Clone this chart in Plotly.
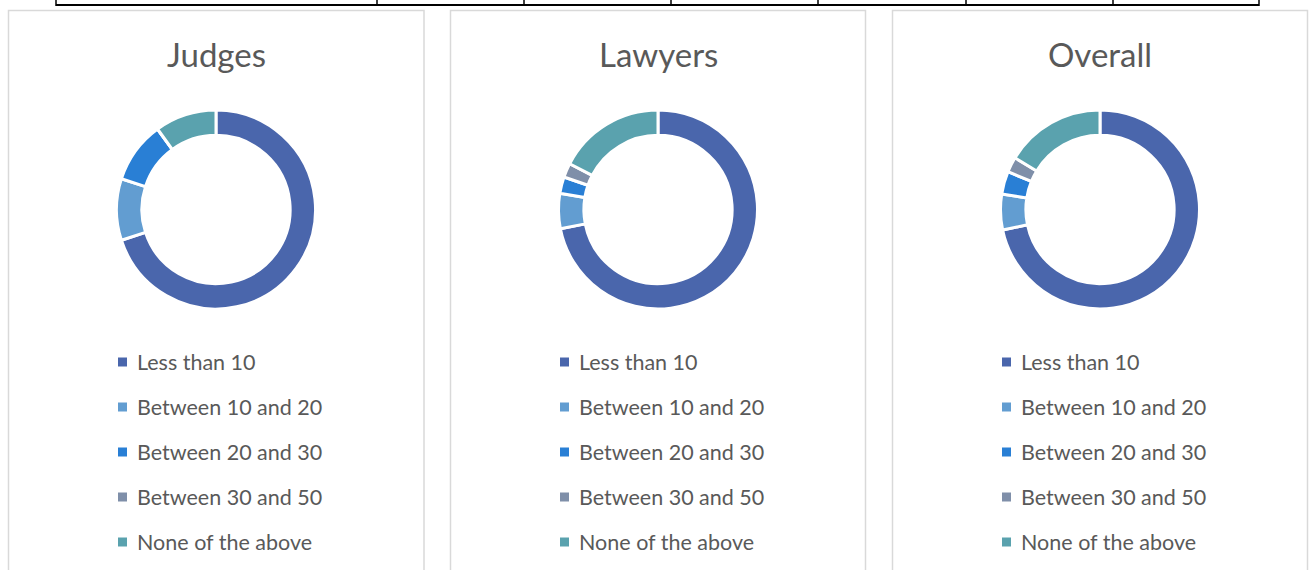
import plotly.graph_objects as go

W, H = 1309, 570

categories = ["Less than 10", "Between 10 and 20", "Between 20 and 30",
              "Between 30 and 50", "None of the above"]
panel_titles = ["Judges", "Lawyers", "Overall"]
judges = [70.0, 10.0, 10.0, 0.0, 10.0]
lawyers = [71.9, 5.7, 2.7, 2.3, 17.4]
overall = [71.7, 5.8, 3.7, 2.5, 16.3]
series = [judges, lawyers, overall]

colors = ["#4A66AC", "#629DD1", "#297FD5", "#7F8FA9", "#5AA2AE"]
text_color = "#595959"
font_family = "Lato, 'Open Sans', sans-serif"

# layout geometry (pixels)
centers_x = [216, 658, 1100]
center_y = 209.5
radius = 99.5
panels = [(8.5, 424), (450.5, 865.5), (892.5, 1307.5)]
table_cols = [56, 377, 524, 671, 818, 966, 1113, 1259]


def px(x):
    return x / W


def py(y):
    return 1 - y / H


fig = go.Figure()
shapes = []
annotations = []

for (x0, x1) in panels:
    shapes.append(dict(type="rect", xref="paper", yref="paper",
                       x0=px(x0), x1=px(x1), y0=py(590), y1=py(10.5),
                       line=dict(color="#D9D9D9", width=1.5),
                       fillcolor="rgba(0,0,0,0)", layer="below"))

# table border fragment at top
shapes.append(dict(type="line", xref="paper", yref="paper",
                   x0=px(table_cols[0]), x1=px(table_cols[-1]),
                   y0=py(5), y1=py(5), line=dict(color="black", width=2)))
for c in table_cols:
    shapes.append(dict(type="line", xref="paper", yref="paper",
                       x0=px(c), x1=px(c), y0=py(6), y1=py(-2),
                       line=dict(color="black", width=1.5)))

for i, (title, vals) in enumerate(zip(panel_titles, series)):
    cx = centers_x[i]
    fig.add_trace(go.Pie(
        labels=categories, values=vals, hole=0.745, sort=False,
        direction="clockwise", rotation=0, textinfo="none",
        hoverinfo="label+percent",
        marker=dict(colors=colors, line=dict(color="white", width=3)),
        domain=dict(x=[px(cx - radius), px(cx + radius)],
                    y=[py(center_y + radius), py(center_y - radius)]),
        showlegend=False, name=title,
    ))
    annotations.append(dict(text=title, xref="paper", yref="paper",
                            x=px(cx), y=py(54.5), xanchor="center", yanchor="middle",
                            showarrow=False,
                            font=dict(size=33, color=text_color, family=font_family)))
    for j, (cat, col) in enumerate(zip(categories, colors)):
        ry = 362 + 45 * j
        shapes.append(dict(type="rect", xref="paper", yref="paper",
                           x0=px(cx - 98), x1=px(cx - 89),
                           y0=py(ry + 4.5), y1=py(ry - 4.5),
                           fillcolor=col, line=dict(width=0)))
        annotations.append(dict(text=cat, xref="paper", yref="paper",
                                x=px(cx - 81), y=py(ry), xanchor="left",
                                yanchor="middle", showarrow=False,
                                font=dict(size=21.5, color=text_color,
                                          family=font_family)))

fig.update_layout(
    width=W, height=H, margin=dict(l=0, r=0, t=0, b=0),
    paper_bgcolor="white", plot_bgcolor="white",
    shapes=shapes, annotations=annotations, showlegend=False,
)

fig.write_html("out.html")
